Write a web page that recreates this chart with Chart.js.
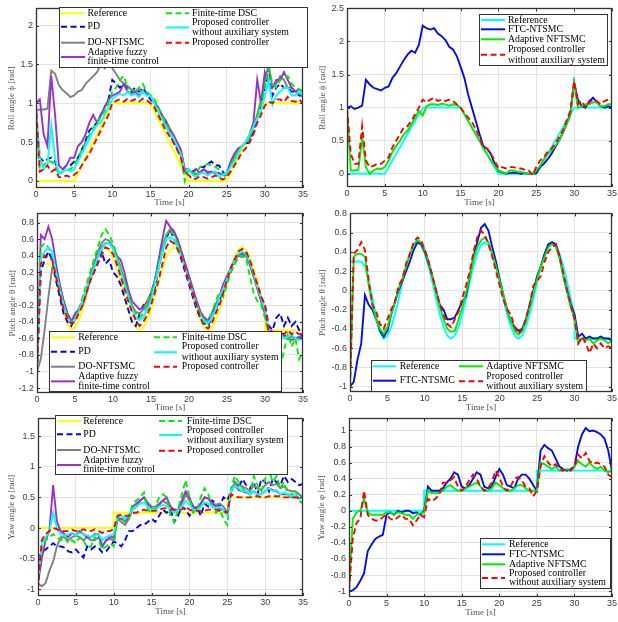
<!DOCTYPE html>
<html>
<head>
<meta charset="utf-8">
<script src="https://cdn.jsdelivr.net/npm/chart.js@4.4.0/dist/chart.umd.min.js"></script>
<style>
  body { margin: 0; background: #fff; }
  #wrap { position: relative; width: 618px; height: 622px; overflow: hidden; background: #fff; }
  #wrap canvas { position: absolute; }
</style>
</head>
<body>
<div id="wrap">
  <canvas id="rollLeft"></canvas>
  <canvas id="rollRight"></canvas>
  <canvas id="pitchLeft"></canvas>
  <canvas id="pitchRight"></canvas>
  <canvas id="yawLeft"></canvas>
  <canvas id="yawRight"></canvas>
</div>
<script>
// ---- time bases ----
const time = [
  0, 0.5, 1, 1.5, 2, 2.5, 3, 3.5, 4, 4.5,
  5, 5.5, 6, 6.5, 7, 7.5, 8, 8.5, 9, 9.5,
  10, 10.5, 11, 11.5, 12, 12.5, 13, 13.5, 14, 14.5,
  15, 15.5, 16, 16.5, 17, 17.5, 18, 18.5, 19, 19.5,
  20, 20.5, 21, 21.5, 22, 22.5, 23, 23.5, 24, 24.5,
  25, 25.5, 26, 26.5, 27, 27.5, 28, 28.5, 29, 29.5,
  30, 30.5, 31, 31.5, 32, 32.5, 33, 33.5, 34, 34.5,
  35
];
const rollRefTime = [0, 5, 10, 15, 20, 25, 30, 35];
const pitchRefTime = [
  0, 0.5, 1, 1.5, 2, 2.5, 3, 3.5, 4, 4.5,
  5, 5.5, 6, 6.5, 7, 7.5, 8, 8.5, 9, 9.5,
  10, 10.5, 11, 11.5, 12, 12.5, 13, 13.5, 14, 14.5,
  15, 15.5, 16, 16.5, 17, 17.5, 18, 18.5, 19, 19.5,
  20, 20.5, 21, 21.5, 22, 22.5, 23, 23.5, 24, 24.5,
  25, 25.5, 26, 26.5, 27, 27.5, 28, 28.5, 29, 29.5,
  30, 30, 35
];
const yawRefTime = [0, 10, 10, 25, 25, 35];

// ---- tick labels ----
const timeTicks = [0, 5, 10, 15, 20, 25, 30, 35];
const rollTicksLeft = [0, 0.5, 1, 1.5, 2];
const rollTicksRight = [0, 0.5, 1, 1.5, 2, 2.5];
const pitchTicksLeft = [-1.2, -1, -0.8, -0.6, -0.4, -0.2, 0, 0.2, 0.4, 0.6, 0.8];
const pitchTicksRight = [-1, -0.8, -0.6, -0.4, -0.2, 0, 0.2, 0.4, 0.6, 0.8];
const yawTicksLeft = [-1, -0.5, 0, 0.5, 1, 1.5];
const yawTicksRight = [-1, -0.8, -0.6, -0.4, -0.2, 0, 0.2, 0.4, 0.6, 0.8, 1];

// ---- reference signals ----
const rollRef = [0, 0, 1, 1, 0, 0, 1, 1];
const pitchRef = [
  0.3, 0.3, 0.3, 0.3, 0.25, 0.1, -0.08, -0.27, -0.43, -0.5,
  -0.47, -0.38, -0.25, -0.09, 0.09, 0.25, 0.38, 0.47, 0.5, 0.47,
  0.38, 0.25, 0.09, -0.09, -0.25, -0.38, -0.47, -0.5, -0.47, -0.38,
  -0.25, -0.09, 0.09, 0.25, 0.38, 0.47, 0.5, 0.47, 0.38, 0.25,
  0.09, -0.09, -0.25, -0.38, -0.47, -0.5, -0.47, -0.38, -0.25, -0.09,
  0.09, 0.25, 0.38, 0.47, 0.5, 0.47, 0.38, 0.25, 0.09, -0.09,
  -0.25, -0.5, -0.5
];
const yawRef = [0, 0, 0.25, 0.25, 0.5, 0.5];

// ---- roll, left panel ----
const roll1PD = [
  0.8, 0.3, 0.25, 0.28, 0.3, 0.25, 0.1, 0.15, 0.2, 0.2,
  0.25, 0.3, 0.4, 0.52, 0.65, 0.7, 0.75, 0.85, 0.95, 1.05,
  1.3, 1.25, 1.2, 1.25, 1.2, 1.15, 1.2, 1.15, 1.2, 1.12,
  1.05, 1.0, 0.9, 0.8, 0.75, 0.62, 0.5, 0.42, 0.35, 0.1,
  0.15, 0.12, 0.15, 0.18, 0.18, 0.22, 0.25, 0.2, 0.2, 0.12,
  0.05, 0.2, 0.3, 0.38, 0.45, 0.48, 0.5, 0.65, 0.8, 1.0,
  1.2, 1.45, 1.1, 1.2, 1.25, 1.2, 1.2, 1.15, 1.15, 1.1,
  1.1
];
const roll1DO = [
  0.9, 0.92, 0.92, 0.93, 1.42, 1.38, 1.23, 1.17, 1.13, 1.08,
  1.1, 1.15, 1.17, 1.25, 1.3, 1.35, 1.4, 1.5, 1.45, 1.55,
  1.45, 1.38, 1.3, 1.25, 1.22, 1.18, 1.15, 1.18, 1.15, 1.12,
  1.1, 1.0, 0.95, 0.85, 0.75, 0.65, 0.55, 0.45, 0.38, 0.15,
  0.15, 0.1, 0.08, 0.12, 0.15, 0.12, 0.12, 0.1, 0.1, 0.08,
  0.1, 0.2, 0.3, 0.38, 0.45, 0.5, 0.55, 0.7, 0.85, 1.05,
  1.3, 1.5, 1.2, 1.25, 1.35, 1.3, 1.2, 1.2, 1.15, 1.12,
  1.1
];
const roll1Fuzzy = [
  1.0, 1.05, 0.6, 0.45, 1.35, 0.85, 0.2, 0.15, 0.2, 0.3,
  0.3, 0.45, 0.5, 0.6, 0.75, 0.85, 0.75, 0.85, 0.95, 1.05,
  1.1, 1.12, 1.15, 1.25, 1.15, 1.12, 1.15, 1.1, 1.15, 1.12,
  1.1, 1.0, 0.95, 0.85, 0.78, 0.68, 0.6, 0.5, 0.4, 0.15,
  0.15, 0.1, 0.15, 0.1, 0.15, 0.1, 0.12, 0.1, 0.1, 0.08,
  0.1, 0.25, 0.35, 0.42, 0.45, 0.5, 0.6, 0.75, 1.3, 1.0,
  1.4, 1.25, 1.2, 1.3, 1.3, 1.4, 1.3, 1.2, 1.15, 1.18,
  1.15
];
const roll1DSC = [
  0.6, 0.15, 0.2, 0.25, 0.25, 0.2, 0.08, 0.12, 0.15, 0.15,
  0.2, 0.3, 0.4, 0.5, 0.6, 0.68, 0.75, 0.82, 0.9, 1.0,
  1.15, 1.2, 1.3, 1.35, 1.2, 1.18, 1.15, 1.2, 1.25, 1.15,
  1.1, 1.05, 0.95, 0.85, 0.75, 0.65, 0.55, 0.45, 0.3, 0.0,
  0.15, 0.1, 0.1, 0.18, 0.2, 0.22, 0.2, 0.18, 0.15, 0.08,
  0.05, 0.2, 0.3, 0.38, 0.45, 0.5, 0.55, 0.7, 0.85, 1.0,
  1.2, 1.45, 1.25, 1.2, 1.3, 1.32, 1.35, 1.25, 1.2, 1.18,
  1.15
];
const roll1NoAux = [
  0.95, 0.3, 0.15, 0.2, 0.72, 0.3, 0.1, 0.12, 0.15, 0.12,
  0.15, 0.25, 0.35, 0.45, 0.55, 0.65, 0.72, 0.75, 0.85, 0.95,
  1.05, 1.1, 1.12, 1.1, 1.15, 1.1, 1.12, 1.08, 1.15, 1.1,
  1.1, 1.0, 0.9, 0.8, 0.7, 0.62, 0.55, 0.45, 0.35, 0.12,
  0.15, 0.08, 0.05, 0.1, 0.1, 0.07, 0.1, 0.12, 0.05, 0.08,
  0.1, 0.18, 0.25, 0.35, 0.45, 0.5, 0.6, 0.7, 0.8, 0.9,
  1.1, 1.3, 0.98, 1.1, 1.15, 1.2, 1.2, 1.1, 1.1, 1.15,
  1.1
];
const roll1Prop = [
  1.0, 0.12, 0.15, 0.2, 0.12, 0.15, 0.05, 0.05, 0.07, 0.05,
  0.08, 0.12, 0.2, 0.28, 0.35, 0.45, 0.55, 0.65, 0.75, 0.85,
  1.0, 1.03, 1.05, 1.02, 1.06, 1.03, 1.05, 1.02, 1.06, 1.04,
  1.0, 0.95, 0.85, 0.75, 0.65, 0.58, 0.5, 0.4, 0.3, 0.1,
  0.08, 0.02, 0.03, 0.06, 0.05, 0.03, 0.05, 0.07, 0.04, 0.02,
  0.05, 0.12, 0.2, 0.28, 0.37, 0.42, 0.5, 0.6, 0.75, 0.85,
  0.97, 1.02, 1.0, 1.05, 1.05, 1.02, 1.08, 1.03, 1.02, 1.05,
  1.0
];

// ---- roll, right panel ----
const roll2FTC = [
  1.0, 1.02, 0.98, 1.0, 1.03, 1.42, 1.35, 1.3, 1.28, 1.26,
  1.3, 1.32, 1.45, 1.52, 1.62, 1.72, 1.8, 1.86, 1.83, 1.95,
  2.24, 2.2, 2.18, 2.2, 2.12, 2.08, 2.02, 1.92, 1.88, 1.78,
  1.62, 1.45, 1.2, 1.0, 0.8, 0.6, 0.42, 0.38, 0.3, 0.15,
  0.04, 0.02, 0.0, 0.01, 0.02, 0.01, 0.0, 0.01, 0.0, 0.0,
  0.01, 0.1, 0.15, 0.22, 0.3, 0.4, 0.5, 0.62, 0.75, 0.9,
  1.38, 1.12, 1.02, 1.0, 1.1, 1.15, 1.08, 1.02, 1.0, 1.02,
  1.0
];
const roll2NFT = [
  1.0, 0.05, 0.05, 0.06, 0.55, 0.1, 0.0, 0.05, 0.08, 0.07,
  0.1, 0.2, 0.33, 0.42, 0.5, 0.6, 0.65, 0.75, 0.85, 0.95,
  0.88, 1.02, 1.05, 1.05, 1.04, 1.06, 1.05, 1.03, 1.05, 1.04,
  1.0, 0.9, 0.8, 0.7, 0.6, 0.5, 0.38, 0.3, 0.2, 0.12,
  0.05, 0.03, 0.0, 0.05, 0.05, 0.03, 0.03, 0.01, 0.0, 0.0,
  0.05, 0.12, 0.22, 0.3, 0.35, 0.42, 0.5, 0.62, 0.75, 0.88,
  1.38, 1.0, 1.02, 1.05, 1.05, 1.08, 1.08, 1.02, 1.02, 1.05,
  1.05
];
const roll2NoAux = [
  1.0, 0.3, 0.15, 0.15, 0.72, 0.2, 0.1, 0.12, 0.15, 0.15,
  0.2, 0.25, 0.4, 0.5, 0.6, 0.7, 0.72, 0.8, 0.9, 1.0,
  1.12, 1.08, 1.12, 1.15, 1.1, 1.12, 1.1, 1.12, 1.1, 1.05,
  1.0, 0.92, 0.85, 0.78, 0.68, 0.55, 0.4, 0.38, 0.3, 0.2,
  0.08, 0.1, 0.08, 0.1, 0.1, 0.08, 0.08, 0.06, 0.05, -0.02,
  0.1, 0.2, 0.25, 0.33, 0.38, 0.45, 0.55, 0.65, 0.8, 0.95,
  1.4, 1.05, 1.1, 1.0, 1.08, 1.12, 1.1, 1.05, 1.1, 1.12,
  1.1
];

// ---- pitch, left panel ----
const pitch1PD = [
  -1.0, 0.2, 0.35, 0.45, 0.35, 0.1, -0.1, -0.3, -0.4, -0.45,
  -0.35, -0.25, -0.15, 0.0, 0.1, 0.2, 0.35, 0.45, 0.3, 0.35,
  0.2, 0.15, 0.05, -0.1, -0.25, -0.4, -0.45, -0.3, -0.2, -0.25,
  -0.1, 0.0, 0.25, 0.45, 0.6, 0.72, 0.6, 0.5, 0.35, 0.2,
  0.05, -0.1, -0.25, -0.35, -0.42, -0.45, -0.35, -0.25, -0.15, 0.0,
  0.1, 0.2, 0.3, 0.4, 0.42, 0.45, 0.3, 0.15, 0.05, -0.1,
  -0.2, -0.45, -0.5, -0.35, -0.3, -0.45, -0.35, -0.45, -0.4, -0.5,
  -0.6
];
const pitch1DO = [
  -1.0, -0.85, -0.5, -0.1, 0.25, 0.25, 0.05, -0.15, -0.3, -0.38,
  -0.35, -0.25, -0.15, 0.0, 0.15, 0.3, 0.45, 0.55, 0.6, 0.58,
  0.5, 0.4, 0.25, 0.1, -0.05, -0.2, -0.28, -0.3, -0.25, -0.2,
  -0.1, 0.1, 0.3, 0.5, 0.65, 0.72, 0.68, 0.58, 0.45, 0.3,
  0.15, 0.0, -0.15, -0.28, -0.35, -0.38, -0.3, -0.2, -0.1, 0.05,
  0.15, 0.25, 0.35, 0.4, 0.38, 0.4, 0.3, 0.15, 0.0, -0.15,
  -0.3, -0.5, -0.55, -0.58, -0.55, -0.58, -0.6, -0.58, -0.6, -0.6,
  -0.6
];
const pitch1Fuzzy = [
  -1.0, 0.65, 0.6, 0.75, 0.6, 0.3, 0.05, -0.15, -0.3, -0.4,
  -0.3, -0.25, -0.2, -0.05, 0.1, 0.25, 0.38, 0.5, 0.55, 0.55,
  0.5, 0.4, 0.35, 0.2, 0.0, -0.15, -0.2, -0.25, -0.22, -0.15,
  -0.05, 0.1, 0.35, 0.6, 0.82, 0.75, 0.7, 0.6, 0.45, 0.3,
  0.15, 0.0, -0.15, -0.28, -0.35, -0.4, -0.3, -0.2, -0.1, 0.05,
  0.15, 0.25, 0.35, 0.4, 0.42, 0.4, 0.3, 0.15, 0.0, -0.15,
  -0.3, -0.5, -0.55, -0.6, -0.58, -0.55, -0.6, -0.62, -0.6, -0.58,
  -0.6
];
const pitch1DSC = [
  -1.0, 0.5, 0.55, 0.5, 0.4, 0.2, 0.0, -0.2, -0.35, -0.4,
  -0.35, -0.25, -0.1, 0.05, 0.2, 0.35, 0.5, 0.65, 0.72, 0.65,
  0.55, 0.4, 0.25, 0.1, -0.05, -0.2, -0.3, -0.35, -0.3, -0.15,
  -0.05, 0.1, 0.3, 0.5, 0.65, 0.7, 0.65, 0.55, 0.4, 0.25,
  0.1, -0.05, -0.2, -0.3, -0.38, -0.4, -0.3, -0.15, -0.05, -0.1,
  0.05, 0.2, 0.3, 0.38, 0.4, 0.38, 0.15, -0.05, -0.15, -0.2,
  -0.35, -0.55, -0.6, -0.7, -0.95, -0.75, -0.55, -0.7, -0.6, -0.85,
  -0.75
];
const pitch1NoAux = [
  -1.0, 0.35, 0.45, 0.5, 0.45, 0.2, 0.0, -0.2, -0.35, -0.42,
  -0.38, -0.28, -0.15, 0.0, 0.12, 0.25, 0.38, 0.48, 0.55, 0.55,
  0.48, 0.35, 0.2, 0.05, -0.1, -0.25, -0.35, -0.38, -0.35, -0.25,
  -0.15, 0.05, 0.25, 0.45, 0.6, 0.62, 0.6, 0.5, 0.38, 0.25,
  0.1, -0.05, -0.2, -0.32, -0.4, -0.42, -0.35, -0.25, -0.1, 0.0,
  0.12, 0.25, 0.35, 0.42, 0.45, 0.42, 0.32, 0.18, 0.02, -0.12,
  -0.25, -0.52, -0.55, -0.58, -0.55, -0.6, -0.58, -0.55, -0.6, -0.62,
  -0.6
];
const pitch1Prop = [
  -1.0, 0.3, 0.4, 0.38, 0.35, 0.15, -0.05, -0.25, -0.35, -0.42,
  -0.4, -0.3, -0.2, -0.05, 0.1, 0.2, 0.3, 0.4, 0.5, 0.48,
  0.42, 0.3, 0.15, 0.0, -0.15, -0.28, -0.38, -0.45, -0.4, -0.32,
  -0.2, -0.05, 0.1, 0.3, 0.5, 0.58, 0.55, 0.48, 0.38, 0.25,
  0.1, -0.05, -0.2, -0.35, -0.45, -0.48, -0.42, -0.3, -0.2, -0.05,
  0.1, 0.25, 0.35, 0.45, 0.48, 0.45, 0.35, 0.2, 0.05, -0.1,
  -0.2, -0.55, -0.5, -0.55, -0.52, -0.55, -0.5, -0.55, -0.52, -0.55,
  -0.55
];

// ---- pitch, right panel ----
const pitch2FTC = [
  -1.0, -0.95, -0.72, -0.55, -0.05, -0.15, -0.2, -0.3, -0.42, -0.48,
  -0.42, -0.25, -0.12, 0.0, 0.1, 0.2, 0.3, 0.42, 0.5, 0.48,
  0.4, 0.28, 0.15, 0.0, -0.15, -0.2, -0.3, -0.3, -0.28, -0.2,
  -0.12, -0.06, 0.15, 0.35, 0.5, 0.65, 0.69, 0.62, 0.45, 0.3,
  0.12, -0.05, -0.2, -0.32, -0.38, -0.42, -0.4, -0.3, -0.15, 0.0,
  0.15, 0.25, 0.38, 0.48, 0.5, 0.48, 0.35, 0.15, 0.0, -0.15,
  -0.25, -0.48, -0.45, -0.5, -0.48, -0.5, -0.5, -0.48, -0.5, -0.5,
  -0.52
];
const pitch2NFT = [
  -1.0, 0.35, 0.38, 0.38, 0.35, 0.05, -0.15, -0.3, -0.4, -0.45,
  -0.38, -0.25, -0.12, 0.02, 0.12, 0.25, 0.38, 0.48, 0.52, 0.5,
  0.42, 0.3, 0.15, -0.02, -0.17, -0.3, -0.4, -0.43, -0.42, -0.3,
  -0.18, -0.02, 0.15, 0.32, 0.45, 0.52, 0.55, 0.5, 0.38, 0.25,
  0.1, -0.05, -0.2, -0.32, -0.42, -0.46, -0.42, -0.32, -0.18, -0.02,
  0.12, 0.25, 0.35, 0.45, 0.48, 0.45, 0.33, 0.15, -0.02, -0.18,
  -0.3, -0.55, -0.5, -0.52, -0.5, -0.55, -0.52, -0.5, -0.52, -0.55,
  -0.52
];
const pitch2NoAux = [
  -1.0, 0.38, 0.42, 0.5, 0.42, 0.1, -0.15, -0.22, -0.35, -0.4,
  -0.3, -0.2, -0.12, 0.05, 0.12, 0.28, 0.38, 0.5, 0.55, 0.52,
  0.42, 0.3, 0.15, 0.0, -0.15, -0.25, -0.35, -0.38, -0.3, -0.22,
  -0.08, 0.05, 0.2, 0.4, 0.55, 0.62, 0.58, 0.48, 0.35, 0.2,
  0.05, -0.1, -0.2, -0.25, -0.38, -0.45, -0.4, -0.3, -0.15, 0.05,
  0.1, 0.15, 0.3, 0.4, 0.45, 0.48, 0.35, 0.18, 0.0, -0.15,
  -0.3, -0.55, -0.48, -0.55, -0.65, -0.55, -0.6, -0.55, -0.6, -0.58,
  -0.6
];

// ---- yaw, left panel ----
const yaw1PD = [
  -0.5, -0.4, -0.35, -0.3, -0.25, -0.3, -0.3, -0.32, -0.38, -0.4,
  -0.35, -0.42, -0.48, -0.3, -0.35, -0.3, -0.32, -0.4, -0.38, -0.3,
  -0.22, -0.25, -0.3, -0.2, -0.05, -0.05, 0.0, 0.05, 0.05, 0.1,
  0.15, 0.1, 0.2, 0.3, 0.25, 0.3, 0.1, 0.2, 0.35, 0.3,
  0.2, 0.3, 0.35, 0.2, 0.4, 0.35, 0.45, 0.4, 0.35, 0.5,
  0.45, 0.6, 0.75, 0.65, 0.8, 0.7, 0.65, 0.75, 0.55, 0.8,
  0.75, 0.6, 0.8, 0.75, 0.7, 0.85, 0.75, 0.8, 0.75, 0.7,
  0.72
];
const yaw1DO = [
  -0.9, -0.95, -0.9, -0.7, -0.55, -0.3, -0.15, -0.15, -0.2, -0.15,
  -0.12, -0.15, -0.2, -0.15, -0.2, -0.2, -0.15, -0.3, -0.2, -0.18,
  -0.2, 0.15, 0.1, 0.05, 0.15, 0.3, 0.35, 0.45, 0.5, 0.42,
  0.35, 0.35, 0.4, 0.45, 0.4, 0.35, 0.3, 0.3, 0.4, 0.55,
  0.45, 0.35, 0.3, 0.4, 0.5, 0.48, 0.4, 0.38, 0.4, 0.35,
  0.25, 0.6, 0.75, 0.7, 0.68, 0.65, 0.6, 0.7, 0.65, 0.62,
  0.7, 0.75, 0.7, 0.72, 0.65, 0.68, 0.62, 0.6, 0.6, 0.55,
  0.5
];
const yaw1Fuzzy = [
  -0.9, -0.5, -0.2, -0.05, 0.7, 0.1, -0.05, -0.1, -0.15, -0.08,
  -0.12, -0.05, -0.1, -0.15, -0.15, -0.1, -0.1, -0.3, -0.2, -0.15,
  -0.15, 0.15, 0.15, 0.1, 0.2, 0.35, 0.4, 0.45, 0.5, 0.38,
  0.32, 0.3, 0.38, 0.45, 0.5, 0.35, 0.28, 0.3, 0.45, 0.6,
  0.5, 0.35, 0.3, 0.4, 0.5, 0.48, 0.4, 0.35, 0.3, 0.3,
  0.25, 0.6, 0.7, 0.62, 0.6, 0.58, 0.55, 0.6, 0.55, 0.55,
  0.6, 0.65, 0.62, 0.6, 0.55, 0.55, 0.55, 0.5, 0.5, 0.48,
  0.5
];
const yaw1DSC = [
  -0.7, -0.35, -0.2, -0.15, -0.1, -0.15, -0.2, -0.15, -0.25, -0.2,
  -0.25, -0.15, -0.2, -0.32, -0.3, -0.15, -0.2, -0.35, -0.3, -0.25,
  -0.3, 0.15, 0.2, 0.1, 0.15, 0.4, 0.45, 0.5, 0.58, 0.3,
  0.25, 0.35, 0.5, 0.55, 0.5, 0.2, 0.1, 0.3, 0.55, 0.78,
  0.5, 0.25, 0.3, 0.5, 0.65, 0.55, 0.35, 0.25, 0.3, 0.15,
  0.05, 0.65, 0.85, 0.75, 0.65, 0.6, 0.55, 0.85, 0.7, 0.6,
  0.8, 0.95, 0.75, 0.85, 0.65, 0.75, 0.55, 0.55, 0.6, 0.45,
  0.4
];
const yaw1NoAux = [
  -0.9, -0.25, -0.15, -0.05, 0.25, 0.0, -0.1, -0.12, -0.1, -0.08,
  -0.12, -0.08, -0.1, -0.12, -0.15, -0.12, -0.1, -0.2, -0.15, -0.12,
  -0.1, 0.2, 0.2, 0.15, 0.22, 0.3, 0.35, 0.4, 0.42, 0.35,
  0.3, 0.3, 0.35, 0.38, 0.35, 0.3, 0.25, 0.3, 0.35, 0.45,
  0.38, 0.3, 0.28, 0.35, 0.42, 0.4, 0.35, 0.32, 0.35, 0.3,
  0.2, 0.6, 0.7, 0.65, 0.6, 0.6, 0.55, 0.6, 0.55, 0.55,
  0.6, 0.65, 0.6, 0.62, 0.55, 0.58, 0.55, 0.52, 0.55, 0.5,
  0.48
];
const yaw1Prop = [
  -1.0, -0.2, -0.1, -0.05, 0.0, -0.02, -0.05, -0.05, -0.05, -0.03,
  -0.05, -0.05, -0.02, -0.05, -0.05, -0.02, -0.05, -0.08, -0.05, -0.05,
  -0.02, 0.2, 0.22, 0.2, 0.2, 0.25, 0.25, 0.28, 0.3, 0.28,
  0.28, 0.28, 0.3, 0.32, 0.32, 0.3, 0.3, 0.3, 0.3, 0.35,
  0.3, 0.28, 0.28, 0.28, 0.28, 0.3, 0.3, 0.3, 0.28, 0.27,
  0.25, 0.55, 0.52, 0.5, 0.5, 0.5, 0.5, 0.52, 0.52, 0.5,
  0.5, 0.52, 0.52, 0.52, 0.52, 0.5, 0.5, 0.5, 0.5, 0.5,
  0.5
];

// ---- yaw, right panel ----
const yaw2FTC = [
  -1.0, -0.99, -0.95, -0.87, -0.78, -0.5, -0.42, -0.35, -0.32, -0.3,
  -0.05, -0.02, -0.05, 0.0, -0.02, 0.0, 0.0, -0.03, -0.02, -0.05,
  0.0, 0.3, 0.25, 0.25, 0.25, 0.28, 0.35, 0.4, 0.48, 0.45,
  0.3, 0.28, 0.32, 0.4, 0.48, 0.45, 0.3, 0.28, 0.3, 0.42,
  0.52, 0.45, 0.32, 0.3, 0.28, 0.4, 0.45, 0.45, 0.4, 0.32,
  0.25, 0.75, 0.82, 0.78, 0.75, 0.65, 0.55, 0.52, 0.5, 0.52,
  0.55, 0.8, 0.95, 1.03, 0.99, 1.0, 0.98, 0.95, 0.9, 0.75,
  0.5
];
const yaw2NFT = [
  -1.0, -0.1, -0.02, 0.0, 0.15, -0.02, -0.05, -0.05, -0.05, -0.05,
  -0.02, -0.02, -0.05, -0.02, -0.03, -0.05, -0.05, -0.1, -0.05, -0.03,
  -0.02, 0.25, 0.22, 0.22, 0.22, 0.25, 0.3, 0.32, 0.28, 0.25,
  0.25, 0.28, 0.3, 0.33, 0.35, 0.3, 0.25, 0.25, 0.28, 0.35,
  0.32, 0.28, 0.25, 0.25, 0.28, 0.32, 0.32, 0.28, 0.25, 0.25,
  0.25, 0.6, 0.58, 0.55, 0.52, 0.55, 0.5, 0.5, 0.52, 0.5,
  0.55, 0.62, 0.58, 0.55, 0.6, 0.55, 0.52, 0.55, 0.5, 0.48,
  0.5
];
const yaw2NoAux = [
  -1.0, -0.35, -0.15, -0.1, 0.25, -0.05, -0.1, -0.12, -0.12, -0.08,
  -0.05, -0.1, -0.12, -0.08, -0.05, -0.1, -0.1, -0.18, -0.12, -0.05,
  -0.08, 0.15, 0.12, 0.15, 0.2, 0.35, 0.35, 0.38, 0.42, 0.3,
  0.25, 0.3, 0.38, 0.45, 0.4, 0.3, 0.25, 0.28, 0.35, 0.5,
  0.42, 0.3, 0.25, 0.3, 0.4, 0.42, 0.38, 0.3, 0.28, 0.18,
  0.25, 0.55, 0.68, 0.6, 0.55, 0.58, 0.52, 0.5, 0.52, 0.5,
  0.55, 0.7, 0.65, 0.72, 0.62, 0.58, 0.6, 0.58, 0.55, 0.45,
  0.42
];

// ---- styles ----
const C = {
  yellow: '#ffff00', cyan: '#00ffff', blue: '#0000ff', gray: '#808080',
  purple: '#9b30d0', green: '#00ee00', red: '#ff0000', ftc: '#0010e8'
};
const NOAUX = 'Proposed controller\nwithout auxiliary system';

const leftSeries = (ref, refT, pd, dob, fuzzy, dsc, noaux, prop) => [
  { label: 'Reference', t: refT, y: ref, color: C.yellow },
  { label: 'PD', t: time, y: pd, color: C.blue, dash: true },
  { label: 'DO-NFTSMC', t: time, y: dob, color: C.gray },
  { label: 'Adaptive fuzzy\nfinite-time control', t: time, y: fuzzy, color: C.purple },
  { label: 'Finite-time DSC', t: time, y: dsc, color: C.green, dash: true },
  { label: NOAUX, t: time, y: noaux, color: C.cyan },
  { label: 'Proposed controller', t: time, y: prop, color: C.red, dash: true }
];
const rightSeries = (ref, refT, ftc, nft, noaux) => [
  { label: 'Reference', t: refT, y: ref, color: C.cyan },
  { label: 'FTC-NTSMC', t: time, y: ftc, color: C.ftc },
  { label: 'Adaptive NFTSMC', t: time, y: nft, color: C.green },
  { label: NOAUX, t: time, y: noaux, color: C.red, dash: true }
];

// panel geometry in page pixels: box = canvas [left, top, w, h], plot = [left, top, right, bottom]
const panels = {
  rollLeft: {
    box: [0, 0, 309, 210], plot: [36, 5, 303, 188], yMin: -0.09, yMax: 2.22,
    yTicks: rollTicksLeft, yTitle: 'Roll angle ϕ [rad]', yTitleX: 12, xTitleY: 203,
    series: leftSeries(rollRef, rollRefTime, roll1PD, roll1DO, roll1Fuzzy, roll1DSC, roll1NoAux, roll1Prop),
    legend: { rect: [59, 7, 307, 67], cols: [[61, 85, 87.5], [166, 189, 192]],
      items: [[0, 0, [13.3]], [1, 0, [26.7]], [2, 0, [42.7]], [3, 0, [52.3, 61.7]],
              [4, 1, [13.3]], [5, 1, [22.7, 32.3]], [6, 1, [42.7]]] }
  },
  rollRight: {
    box: [309, 0, 309, 210], plot: [347, 7, 615, 187], yMin: -0.2, yMax: 2.5,
    yTicks: rollTicksRight, yTitle: 'Roll angle ϕ [rad]', yTitleX: 323, xTitleY: 203,
    series: rightSeries(rollRef, rollRefTime, roll2FTC, roll2NFT, roll2NoAux),
    legend: { rect: [479, 14, 607, 65], cols: [[481, 505, 508]],
      items: [[0, 0, [20]], [1, 0, [29.3]], [2, 0, [39.3]], [3, 0, [49.3, 60]]] }
  },
  pitchLeft: {
    box: [0, 205, 309, 210], plot: [37, 210, 303, 393], yMin: -1.26, yMax: 0.91,
    yTicks: pitchTicksLeft, yTitle: 'Pitch angle θ [rad]', yTitleX: 12.7, xTitleY: 407.3,
    series: leftSeries(pitchRef, pitchRefTime, pitch1PD, pitch1DO, pitch1Fuzzy, pitch1DSC, pitch1NoAux, pitch1Prop),
    legend: { rect: [49, 331, 281, 391], cols: [[51, 75, 78.3], [154, 177, 181.7]],
      items: [[0, 0, [337.3]], [1, 0, [351.7]], [2, 0, [366.7]], [3, 0, [376.7, 386]],
              [4, 1, [337.3]], [5, 1, [346.7, 357.7]], [6, 1, [366.7]]] }
  },
  pitchRight: {
    box: [309, 205, 309, 210], plot: [350, 212, 615, 392], yMin: -1.055, yMax: 0.8,
    yTicks: pitchTicksRight, yTitle: 'Pitch angle θ [rad]', yTitleX: 323, xTitleY: 407.3,
    series: rightSeries(pitchRef, pitchRefTime, pitch2FTC, pitch2NFT, pitch2NoAux),
    legend: { rect: [371, 360, 586, 391], cols: [[373, 396, 399.7], [459, 483, 486.3]],
      items: [[0, 0, [366.3]], [1, 0, [380.7]], [2, 1, [366.3]], [3, 1, [376, 386.7]]] }
  },
  yawLeft: {
    box: [0, 410, 309, 212], plot: [38, 415, 303, 596], yMin: -1.11, yMax: 1.79,
    yTicks: yawTicksLeft, yTitle: 'Yaw angle φ [rad]', yTitleX: 11.7, xTitleY: 611.7,
    series: leftSeries(yawRef, yawRefTime, yaw1PD, yaw1DO, yaw1Fuzzy, yaw1DSC, yaw1NoAux, yaw1Prop),
    legend: { rect: [55, 415, 287, 474], cols: [[57, 81, 83.3], [159, 182, 186.7]],
      items: [[0, 0, [421]], [1, 0, [434.3]], [2, 0, [450]], [3, 0, [460.7, 469.3]],
              [4, 1, [421]], [5, 1, [430, 440]], [6, 1, [450.7]]] }
  },
  yawRight: {
    box: [309, 410, 309, 212], plot: [349, 415, 615, 597], yMin: -1.073, yMax: 1.15,
    yTicks: yawTicksRight, yTitle: 'Yaw angle φ [rad]', yTitleX: 322, xTitleY: 612.3,
    series: rightSeries(yawRef, yawRefTime, yaw2FTC, yaw2NFT, yaw2NoAux),
    legend: { rect: [480, 538, 610, 588], cols: [[482, 505, 509]],
      items: [[0, 0, [544.3]], [1, 0, [554.3]], [2, 0, [564.3]], [3, 0, [573.3, 582.7]]] }
  }
};

const AXIS = '#333333';
const TICK_FONT = { family: 'Liberation Sans, Arial, sans-serif', size: 9 };
const TITLE_FONT = { family: 'Liberation Serif, Times New Roman, serif', size: 9 };
const LEGEND_FONT = '9.8px "Liberation Serif", "Times New Roman", serif';

// box frame with inward tick marks, like MATLAB "box on"
const framePlugin = {
  id: 'frame',
  afterDatasetsDraw(chart) {
    const { ctx, chartArea: a, scales } = chart;
    ctx.save();
    ctx.strokeStyle = AXIS;
    ctx.lineWidth = 1;
    ctx.setLineDash([]);
    ctx.beginPath();
    scales.x.ticks.forEach(t => {
      const x = Math.round(scales.x.getPixelForValue(t.value)) + 0.5;
      ctx.moveTo(x, a.bottom); ctx.lineTo(x, a.bottom - 3);
      ctx.moveTo(x, a.top); ctx.lineTo(x, a.top + 3);
    });
    scales.y.ticks.forEach(t => {
      const y = Math.round(scales.y.getPixelForValue(t.value)) + 0.5;
      ctx.moveTo(a.left, y); ctx.lineTo(a.left + 3, y);
      ctx.moveTo(a.right, y); ctx.lineTo(a.right - 3, y);
    });
    ctx.stroke();
    ctx.lineWidth = 1.3;
    ctx.strokeRect(Math.round(a.left) + 0.5, Math.round(a.top) + 0.5,
      Math.round(a.right - a.left) - 1, Math.round(a.bottom - a.top) - 1);
    ctx.restore();
  }
};

// legend box placed inside the axes
const legendPlugin = {
  id: 'boxLegend',
  afterDraw(chart) {
    const p = panels[chart.canvas.id];
    const lg = p.legend;
    const [L, T] = p.box;
    const ctx = chart.ctx;
    ctx.save();
    const [x0, y0, x1, y1] = lg.rect;
    ctx.fillStyle = '#fff';
    ctx.fillRect(x0 - L, y0 - T, x1 - x0, y1 - y0);
    ctx.strokeStyle = AXIS;
    ctx.lineWidth = 1;
    ctx.strokeRect(Math.round(x0 - L) + 0.5, Math.round(y0 - T) + 0.5, Math.round(x1 - x0), Math.round(y1 - y0));
    ctx.font = LEGEND_FONT;
    ctx.textBaseline = 'middle';
    ctx.textAlign = 'left';
    lg.items.forEach(([di, ci, ys]) => {
      const ds = chart.data.datasets[di];
      const [lx1, lx2, tx] = lg.cols[ci];
      const ly = ys.length > 1 ? (ys[0] + ys[1]) / 2 : ys[0];
      ctx.strokeStyle = ds.borderColor;
      ctx.lineWidth = 2;
      ctx.setLineDash(ds.borderDash || []);
      ctx.beginPath();
      ctx.moveTo(lx1 - L, ly - T);
      ctx.lineTo(lx2 - L, ly - T);
      ctx.stroke();
      ctx.setLineDash([]);
      ctx.fillStyle = '#000';
      ds.label.split('\n').forEach((line, k) => ctx.fillText(line, tx - L, ys[k] - T));
    });
    ctx.restore();
  }
};

function makeChart(id) {
  const p = panels[id];
  const [L, T, W, H] = p.box;
  const [pl, pt, pr, pb] = p.plot;
  const canvas = document.getElementById(id);
  canvas.style.left = L + 'px';
  canvas.style.top = T + 'px';
  canvas.style.width = W + 'px';
  canvas.style.height = H + 'px';
  canvas.width = W;
  canvas.height = H;
  const n = p.series.length;
  const titleLine = TITLE_FONT.size * 1.2;

  return new Chart(canvas, {
    type: 'line',
    data: {
      datasets: p.series.map((s, i) => ({
        label: s.label,
        data: s.t.map((t, k) => ({ x: t, y: s.y[k] })),
        borderColor: s.color,
        borderWidth: 1.9,
        borderDash: s.dash ? [6, 3.5] : [],
        pointRadius: 0,
        fill: false,
        tension: 0,
        order: n - i
      }))
    },
    options: {
      responsive: false,
      animation: false,
      events: [],
      layout: { padding: { left: 0, top: pt - T, right: L + W - pr, bottom: 0 } },
      plugins: { legend: { display: false }, tooltip: { enabled: false } },
      scales: {
        x: {
          type: 'linear', min: 0, max: 35,
          afterBuildTicks: s => { s.ticks = timeTicks.map(v => ({ value: v })); },
          afterFit: s => { s.height = T + H - pb; },
          ticks: { font: TICK_FONT, color: '#404040', padding: 1, maxRotation: 0, autoSkip: false, callback: v => String(v) },
          grid: { color: '#e3e3e3', lineWidth: 1, drawTicks: false },
          border: { display: false },
          title: { display: true, text: 'Time [s]', font: TITLE_FONT, color: '#505050',
                   padding: { top: 0, bottom: (T + H - p.xTitleY) - titleLine / 2 } }
        },
        y: {
          type: 'linear', min: p.yMin, max: p.yMax,
          afterBuildTicks: s => { s.ticks = p.yTicks.map(v => ({ value: v })); },
          afterFit: s => { s.width = pl - L; },
          ticks: { font: TICK_FONT, color: '#404040', padding: 3, autoSkip: false, callback: v => String(v) },
          grid: { color: '#e3e3e3', lineWidth: 1, drawTicks: false },
          border: { display: false },
          title: { display: true, text: p.yTitle, font: TITLE_FONT, color: '#505050',
                   padding: { top: (p.yTitleX - L) - titleLine / 2, bottom: 0 } }
        }
      }
    },
    plugins: [framePlugin, legendPlugin]
  });
}

Object.keys(panels).forEach(makeChart);
</script>
</body>
</html>
